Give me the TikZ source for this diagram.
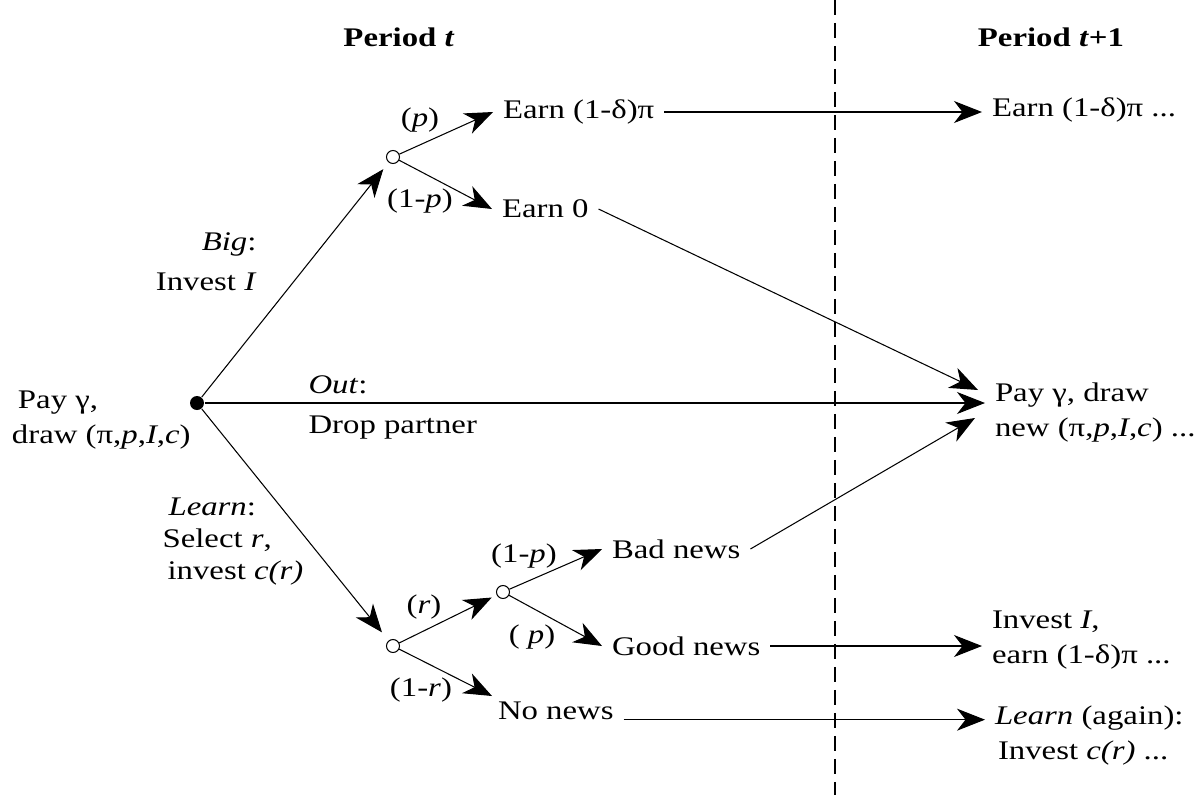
\documentclass[tikz,border=0pt]{standalone}
\usepackage{fontspec}
\setmainfont{Liberation Serif}[FakeStretch=1.22]
\usetikzlibrary{arrows.meta,calc}

\begin{document}
\begin{tikzpicture}[x=0.02cm,y=-0.02cm,
  font=\fontsize{15.3pt}{19.9pt}\selectfont,
  line width=0.6pt,
  txt/.style={inner xsep=0.2cm,inner ysep=0.05cm,outer sep=0pt},
  lbl/.style={inner sep=0pt},
  decision/.style={circle,fill=black,inner sep=0pt,minimum size=0.28cm},
  chance/.style={circle,draw,fill=white,inner sep=0pt,minimum size=0.26cm},
  branch/.style={-{Stealth[length=0.56cm,width=0.44cm,inset=0.17cm]}}]
\useasboundingbox (0,0) rectangle (1204,795);
\draw[dash pattern=on 0.3cm off 0.16cm] (835,0) -- (835,795);
\node[lbl] (pert) at (399,37) {\textbf{Period \textit{t}}};
\node[lbl] (pertnext) at (1051,37) {\textbf{Period \textit{t}+1}};
\node[decision] (root) at (197,403) {};
\node[txt,anchor=west,align=left] (start) at (2,420) {\hspace{0.12cm}Pay γ,\\draw (π,\textit{p},\textit{I},\textit{c})};
\node[chance] (cbig) at (393,157) {};
\node[chance] (clearn) at (393,646) {};
\node[chance] (cnews) at (503,592) {};
\node[txt,anchor=west] (earnpi) at (493,112) {Earn (1-δ)π};
\node[txt,anchor=west] (earnzero) at (492,209) {Earn 0};
\node[txt,anchor=west] (earnnext) at (982,110) {Earn (1-δ)π ...};
\node[txt,anchor=west,align=left] (redraw) at (985,413) {Pay γ, draw\\new (π,\textit{p},\textit{I},\textit{c}) ...};
\node[txt,anchor=west] (bad) at (602,549) {Bad news};
\node[txt,anchor=west] (good) at (602,646) {Good news};
\node[txt,anchor=west] (nonews) at (488,711) {No news};
\node[txt,anchor=west,align=left] (invest) at (982,640) {Invest \textit{I},\\earn (1-δ)π ...};
\node[txt,anchor=west,align=left] (again) at (985,736) {\textit{Learn} (again):\\\hspace{0.06cm}Invest \textit{c(r)} ...};
\node[lbl,anchor=east,align=right] (biglbl) at (257,262) {\textit{Big}:\\[0.1cm]Invest \textit{I}};
\node[lbl,anchor=west] (outlbl) at (308,385) {\textit{Out}:};
\node[lbl,anchor=west] (droplbl) at (308,428) {Drop partner};
\node[lbl,anchor=west,align=left] (learnlbl) at (162,542) {\hspace{0.12cm}\textit{Learn}:\\[-0.06cm]Select \textit{r},\\[-0.06cm]\hspace{0.1cm}invest \textit{c(r)}};
\node[lbl] (pp) at (420,120) {(\textit{p})};
\node[lbl] (pq) at (420,201) {(1-\textit{p})};
\node[lbl] (pr) at (424,607) {(\textit{r})};
\node[lbl] (pnr) at (421,690) {(1-\textit{r})};
\node[lbl] (pbad) at (524,556) {(1-\textit{p})};
\node[lbl] (pgood) at (532,637) {( \textit{p})};
\draw[branch,shorten >=0.17cm] (root) -- (cbig);
\draw[branch,shorten >=0.21cm] (root) -- (clearn);
\draw[branch] (root) -- (root -| redraw.west);
\draw[branch] (cbig) -- (earnpi.west);
\draw[branch] (cbig) -- (earnzero.west);
\draw[branch] (earnpi.east) -- (earnpi.east -| earnnext.west);
\draw[branch] (earnzero.east) -- ($(redraw.west)+(-7,-23)$);
\draw[branch,shorten >=0.11cm] (clearn) -- (cnews);
\draw[branch] (clearn) -- ($(nonews.west)+(4,-15)$);
\draw[branch] (cnews) -- (bad.west);
\draw[branch] (cnews) -- (good.west);
\draw[branch] (bad.east) -- ($(redraw.west)+(-10,5)$);
\draw[branch] (good.east) -- (good.east -| invest.west);
\draw[branch] (nonews.base east) -- (nonews.base east -| again.west);
\end{tikzpicture}
\end{document}
